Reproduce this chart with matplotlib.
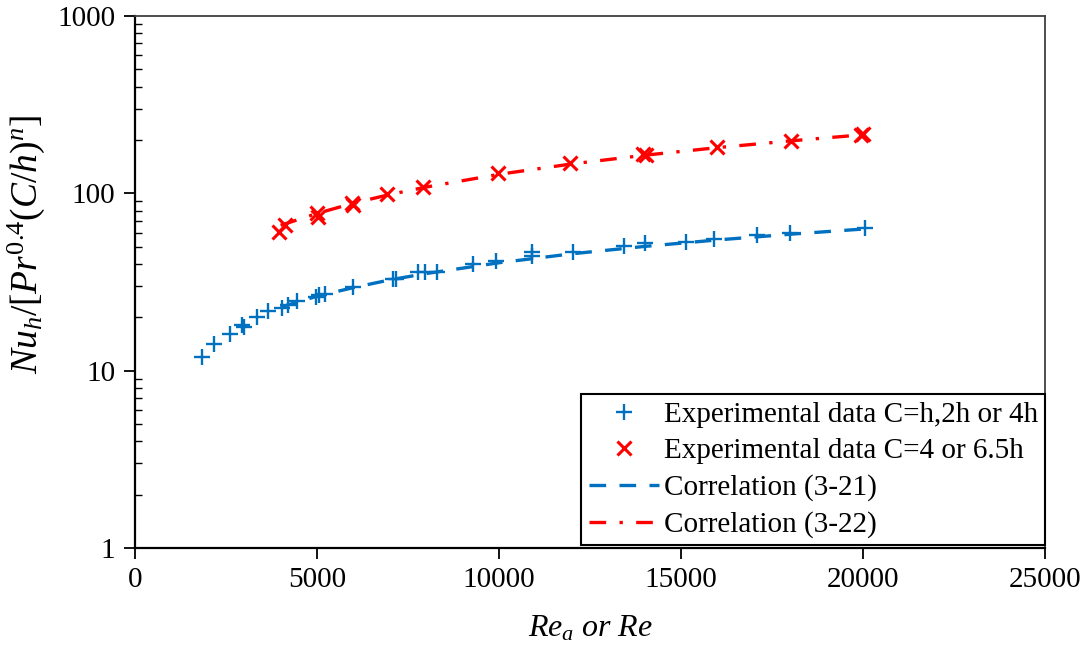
import matplotlib
matplotlib.use("Agg")
import matplotlib.pyplot as plt
from matplotlib.ticker import LogLocator, FixedLocator, NullFormatter, FuncFormatter

# experimental data, C = h, 2h or 4h
re_blue = [1830, 2180, 2610, 2930, 3000, 3360, 3650, 4030, 4210, 4440, 4970, 5060,
           5220, 6000, 7080, 7170, 7780, 7970, 8290, 9290, 9920, 10900, 10900, 12020,
           13430, 14010, 15140, 15910, 17100, 18000, 20050]
nu_blue = [12.0, 14.1, 16.1, 18.1, 17.6, 20.0, 21.7, 22.5, 23.5, 24.7, 26.1, 26.7,
           27.1, 29.8, 32.8, 32.8, 35.9, 35.8, 35.9, 40.0, 41.7, 44.5, 46.5, 46.9,
           50.5, 52.3, 53.0, 55.1, 58.3, 60.0, 63.6]

# experimental data, C = 4 or 6.5h
re_red = [3960, 4120, 4990, 5030, 5950, 6000, 6910, 7920, 9980, 11950, 13960, 14040,
          15980, 18010, 19950, 20000]
nu_red = [60.6, 66.3, 77.3, 74.0, 88.6, 86.0, 99.2, 109.0, 130.0, 148.0, 167.0, 165.0,
          183.0, 198.0, 213.0, 217.0]

# correlations
re_corr = [4000, 5000, 6000, 7000, 8000, 10000, 12000, 14000, 16000, 18000, 20000]
nu_corr21 = [22.8, 26.3, 29.4, 32.5, 35.3, 40.6, 45.6, 50.2, 54.6, 58.8, 62.9]
nu_corr22 = [66.0, 77.0, 88.0, 98.5, 108.5, 128.0, 146.5, 164.0, 181.0, 197.5, 214.0]

x_ticks = [0, 5000, 10000, 15000, 20000, 25000]

blue = '#0070C0'
red = '#FF0000'
fs = 21

plt.rcParams['font.family'] = ['Liberation Serif', 'DejaVu Serif']
plt.rcParams['mathtext.fontset'] = 'custom'
plt.rcParams['mathtext.rm'] = 'Liberation Serif'
plt.rcParams['mathtext.it'] = 'Liberation Serif:italic'
plt.rcParams['font.size'] = fs

fig = plt.figure(figsize=(10.86, 6.45), dpi=100)
ax = fig.add_axes([135 / 1086, 1 - 548 / 645, 910 / 1086, 532 / 645])

ax.plot(re_blue, nu_blue, linestyle='none', marker='+', color=blue,
        markersize=12, markeredgewidth=1.7, label='Experimental data C=h,2h or 4h')
ax.plot(re_red, nu_red, linestyle='none', marker='x', color=red,
        markersize=10, markeredgewidth=2.2, label='Experimental data C=4 or 6.5h')
ax.plot(re_corr, nu_corr21, color=blue, linewidth=2.4, linestyle=(0, (5, 4)),
        label='Correlation (3-21)')
ax.plot(re_corr, nu_corr22, color=red, linewidth=2.4, linestyle=(0, (5, 4, 1, 4)),
        label='Correlation (3-22)')

ax.set_yscale('log')
ax.set_ylim(1, 1000)
ax.set_xlim(0, 25000)
ax.xaxis.set_major_locator(FixedLocator(x_ticks))
ax.yaxis.set_major_locator(LogLocator(base=10, numticks=10))
ax.yaxis.set_major_formatter(FuncFormatter(lambda v, p: f'{v:g}'))
ax.yaxis.set_minor_locator(LogLocator(base=10, subs=range(2, 10), numticks=10))
ax.yaxis.set_minor_formatter(NullFormatter())

ax.tick_params(axis='both', which='major', direction='out', length=8, width=1.3,
               colors='black', pad=6)
ax.tick_params(axis='y', which='minor', direction='in', length=5, width=1.0)

for side in ['left', 'bottom']:
    ax.spines[side].set_linewidth(1.6)
    ax.spines[side].set_color('black')
for side in ['top', 'right']:
    ax.spines[side].set_linewidth(1.3)
    ax.spines[side].set_color('#404040')

ax.set_xlabel(r'$\mathit{Re_a\ or\ Re}$', fontsize=23, labelpad=15)
ax.set_ylabel(r'$\mathit{Nu_h/[Pr^{0.4}(C/h)^n]}$', fontsize=27)
ax.yaxis.set_label_coords(-0.097, 0.57)

leg = ax.legend(loc='lower right', bbox_to_anchor=(1.0, 0.005), borderaxespad=0,
                fancybox=False, framealpha=1, edgecolor='black',
                handlelength=2.4, handletextpad=0.17, labelspacing=0.34,
                borderpad=0.25, fontsize=fs)
leg.get_frame().set_linewidth(1.5)

fig.savefig('out.png', dpi=100)
